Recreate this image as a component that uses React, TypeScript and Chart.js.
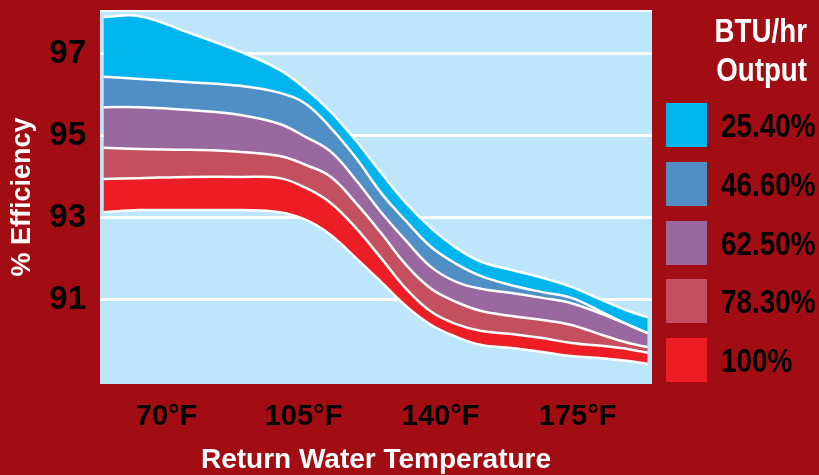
import React, { useEffect, useRef } from "react";
import { Chart, registerables } from "chart.js";
Chart.register(...registerables);

// return water temperature (°F) at each sampled point
const temps = [53.9, 63.1, 75.9, 88.9, 98.9, 105.6, 112.0, 118.4, 124.8, 131.2, 137.6, 144.0, 150.4, 158.1, 166.0, 173.4, 181.1, 188.0, 192.9];

// efficiency boundaries, top edge of each band down to the bottom edge of the last one
const edge25 = [97.89, 97.91, 97.5, 97.04, 96.6, 96.13, 95.57, 94.87, 94.09, 93.35, 92.74, 92.26, 91.92, 91.72, 91.53, 91.31, 90.99, 90.72, 90.57];
const edge46 = [96.43, 96.38, 96.3, 96.21, 96.04, 95.77, 95.18, 94.45, 93.6, 92.91, 92.28, 91.87, 91.57, 91.35, 91.18, 91.04, 90.7, 90.38, 90.18];
const edge62 = [95.69, 95.69, 95.62, 95.5, 95.28, 94.96, 94.6, 93.91, 93.13, 92.43, 91.79, 91.43, 91.26, 91.16, 91.04, 90.91, 90.65, 90.38, 90.18];
const edge78 = [94.7, 94.67, 94.65, 94.6, 94.5, 94.28, 93.99, 93.35, 92.62, 91.84, 91.26, 90.94, 90.72, 90.6, 90.5, 90.38, 90.14, 89.94, 89.84];
const edge100 = [93.94, 93.96, 93.99, 93.99, 93.96, 93.72, 93.35, 92.74, 92.01, 91.26, 90.7, 90.4, 90.23, 90.16, 90.06, 89.94, 89.87, 89.79, 89.7];
const edgeBottom = [93.13, 93.18, 93.18, 93.18, 93.13, 92.94, 92.57, 92.01, 91.43, 90.84, 90.38, 90.09, 89.89, 89.82, 89.72, 89.62, 89.57, 89.5, 89.43];

const outputLabels = ["25.40%", "46.60%", "62.50%", "78.30%", "100%"];
const bandColors = ["#00B4EE", "#4F8FC6", "#98689F", "#C4505F", "#ED1D25"];
const yTicks = [91, 93, 95, 97];
const xTicks = [70, 105, 140, 175];

const FONT = "'Liberation Sans', Arial, sans-serif";
const BG = "#A20C13";
const PLOT_BG = "#BEE6FA";

const plotBackground = {
	id: "plotBackground",
	beforeDraw(chart: Chart) {
		const { ctx, chartArea: a } = chart;
		ctx.save();
		ctx.fillStyle = PLOT_BG;
		ctx.fillRect(a.left, a.top, a.right - a.left, a.bottom - a.top);
		ctx.fillStyle = "#fff";
		ctx.fillRect(a.left, a.top, a.right - a.left, 2);
		ctx.restore();
	},
};

const toPoints = (vals: number[]) => vals.map((v, i) => ({ x: temps[i], y: v }));

export default function App() {
	const canvasRef = useRef<HTMLCanvasElement | null>(null);

	useEffect(() => {
		if (!canvasRef.current) return;
		const edges = [edge25, edge46, edge62, edge78, edge100, edgeBottom];
		const chart = new Chart(canvasRef.current, {
			type: "line",
			data: {
				datasets: edges.map((vals, i) => ({
					label: outputLabels[i] ?? "",
					data: toPoints(vals),
					backgroundColor: bandColors[i] ?? "transparent",
					fill: i < bandColors.length ? "+1" : false,
				})),
			},
			options: {
				animation: false,
				responsive: false,
				layout: { padding: { left: 0, right: 167, top: 10, bottom: 0 } },
				elements: {
					point: { radius: 0 },
					line: { borderColor: "#fff", borderWidth: 2.5, tension: 0.4 },
				},
				plugins: {
					legend: { display: false },
					tooltip: { enabled: false },
					filler: { drawTime: "beforeDatasetsDraw" },
				},
				scales: {
					x: {
						type: "linear",
						min: 53,
						max: 194,
						afterBuildTicks: (s: any) => {
							s.ticks = xTicks.map((v) => ({ value: v }));
						},
						afterFit: (s: any) => {
							s.height = 91;
							s.paddingLeft = 0;
							s.paddingRight = 0;
						},
						grid: { display: false, drawTicks: false },
						border: { display: false },
						ticks: {
							color: "#000",
							font: { family: FONT, size: 29, weight: "bold" },
							padding: 16,
							maxRotation: 0,
							autoSkip: false,
							callback: (v: any) => `${v}°F`,
						},
						title: {
							display: true,
							text: "Return Water Temperature",
							color: "#fff",
							font: { family: FONT, size: 28, weight: "bold", lineHeight: 1.07 },
							padding: 0,
						},
					},
					y: {
						min: 88.94,
						max: 98.06,
						afterBuildTicks: (s: any) => {
							s.ticks = yTicks.map((v) => ({ value: v }));
						},
						afterFit: (s: any) => {
							s.width = 100;
							s.paddingTop = 0;
							s.paddingBottom = 0;
						},
						grid: { color: "#fff", lineWidth: 3, drawTicks: false },
						border: { display: false },
						ticks: {
							color: "#000",
							font: { family: FONT, size: 33, weight: "bold" },
							padding: 14,
						},
						title: {
							display: true,
							text: "% Efficiency",
							color: "#fff",
							font: { family: FONT, size: 27, weight: "bold" },
							padding: { top: 6, bottom: 0 },
						},
					},
				},
			},
			plugins: [plotBackground],
		});
		return () => chart.destroy();
	}, []);

	return (
		<div
			style={{
				position: "absolute",
				left: 0,
				top: 0,
				width: 819,
				height: 475,
				overflow: "hidden",
				background: BG,
				fontFamily: FONT,
				fontWeight: "bold",
			}}
		>
			<canvas ref={canvasRef} width={819} height={475} style={{ display: "block" }} />
			<div
				style={{
					position: "absolute",
					right: 12,
					top: 11,
					color: "#fff",
					fontSize: 33,
					lineHeight: "39px",
					textAlign: "right",
					transform: "scaleX(0.84)",
					transformOrigin: "right top",
				}}
			>
				<div>BTU/hr</div>
				<div>Output</div>
			</div>
			<div
				style={{
					position: "absolute",
					left: 666,
					top: 103,
					display: "flex",
					flexDirection: "column",
					gap: 14.8,
				}}
			>
				{outputLabels.map((label, i) => (
					<div key={label} style={{ display: "flex", alignItems: "center", height: 44 }}>
						<div style={{ width: 41, height: 44, background: bandColors[i] }} />
						<div
							style={{
								marginLeft: 14,
								fontSize: 34,
								lineHeight: "34px",
								color: "#000",
								transform: "scaleX(0.82)",
								transformOrigin: "left center",
								whiteSpace: "nowrap",
							}}
						>
							{label}
						</div>
					</div>
				))}
			</div>
		</div>
	);
}
